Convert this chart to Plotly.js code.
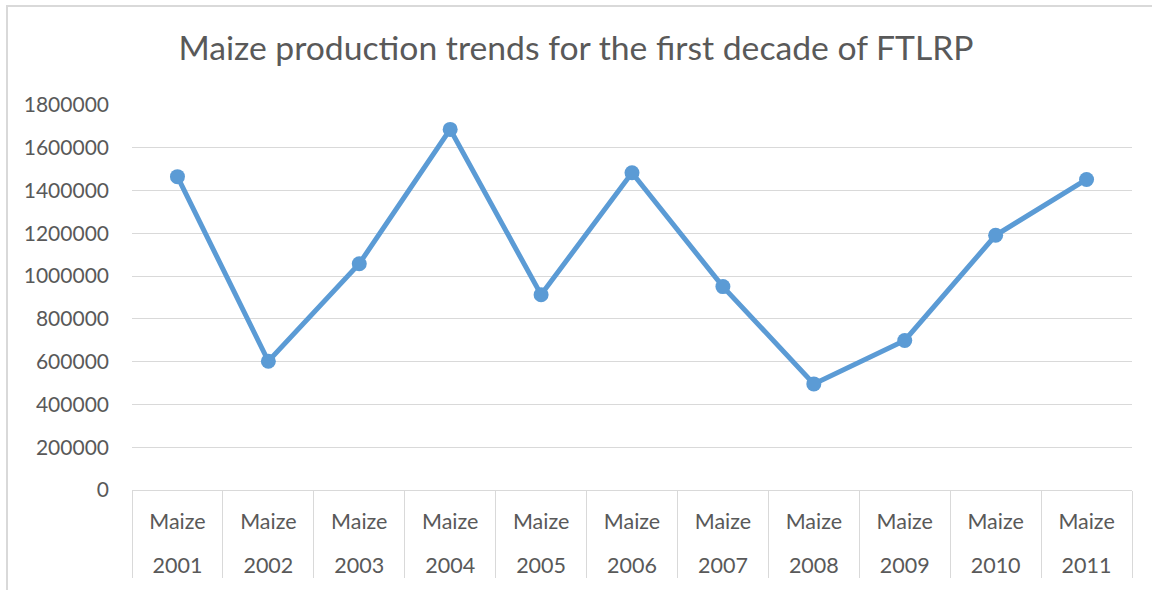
<!DOCTYPE html>
<html>
<head>
<meta charset="utf-8">
<script src="https://cdn.plot.ly/plotly-3.0.1.min.js"></script>
<style>
html,body{margin:0;padding:0;background:#fff;}
#chart{width:1152px;height:590px;}
</style>
</head>
<body>
<div id="chart"></div>
<script>
const years = ['2001','2002','2003','2004','2005','2006','2007','2008','2009','2010','2011'];
const crops = ['Maize','Maize','Maize','Maize','Maize','Maize','Maize','Maize','Maize','Maize','Maize'];
const production = [1465000, 602000, 1058000, 1686000, 913000, 1483000, 951000, 496000, 699000, 1191000, 1452000];
const yTicks = [0, 200000, 400000, 600000, 800000, 1000000, 1200000, 1400000, 1600000, 1800000];

const textColor = '#595959';
const gridColor = '#d9d9d9';
const font = 'Lato, "Open Sans", sans-serif';

// inner category labels get a blank second line so the year row sits lower
const cropLabels = crops.map(c => c + '<br>\u00a0');

const trace = {
  type: 'scatter',
  mode: 'lines+markers',
  x: [years, cropLabels],
  y: production,
  line: {color: '#5B9BD5', width: 5},
  marker: {color: '#5B9BD5', size: 15},
  hoverinfo: 'none',
  showlegend: false
};

const layout = {
  width: 1152,
  height: 590,
  margin: {l: 132, r: 20, t: 105, b: 100},
  paper_bgcolor: '#ffffff',
  plot_bgcolor: '#ffffff',
  font: {family: font, color: textColor, size: 21.5},
  title: {
    text: 'Maize production trends for the first decade of FTLRP',
    font: {family: font, color: textColor, size: 33.7},
    x: 0.5, xref: 'container', xanchor: 'center',
    y: 0.918, yref: 'container', yanchor: 'middle'
  },
  xaxis: {
    type: 'multicategory',
    range: [-0.5, 10.5],
    autorange: false,
    showdividers: true,
    dividercolor: gridColor,
    dividerwidth: 1,
    showline: true,
    linecolor: gridColor,
    linewidth: 1,
    showgrid: false,
    ticks: '',
    ticklabelstandoff: 12,
    tickfont: {family: font, color: textColor, size: 21.5},
    fixedrange: true
  },
  yaxis: {
    range: [0, 1800000],
    tickvals: yTicks,
    ticktext: yTicks.map(v => String(v)),
    showgrid: true,
    gridcolor: gridColor,
    gridwidth: 1,
    zeroline: false,
    showline: false,
    ticks: '',
    ticklabelstandoff: 22,
    tickfont: {family: font, color: textColor, size: 21},
    fixedrange: true
  },
  shapes: [{
    type: 'rect', xref: 'paper', yref: 'paper',
    x0: -0.125, x1: 1.04, y0: -0.4, y1: 1.257,
    line: {color: gridColor, width: 2},
    fillcolor: 'rgba(0,0,0,0)',
    layer: 'below'
  }]
};

Plotly.newPlot('chart', [trace], layout, {displayModeBar: false, staticPlot: true});
</script>
</body>
</html>
